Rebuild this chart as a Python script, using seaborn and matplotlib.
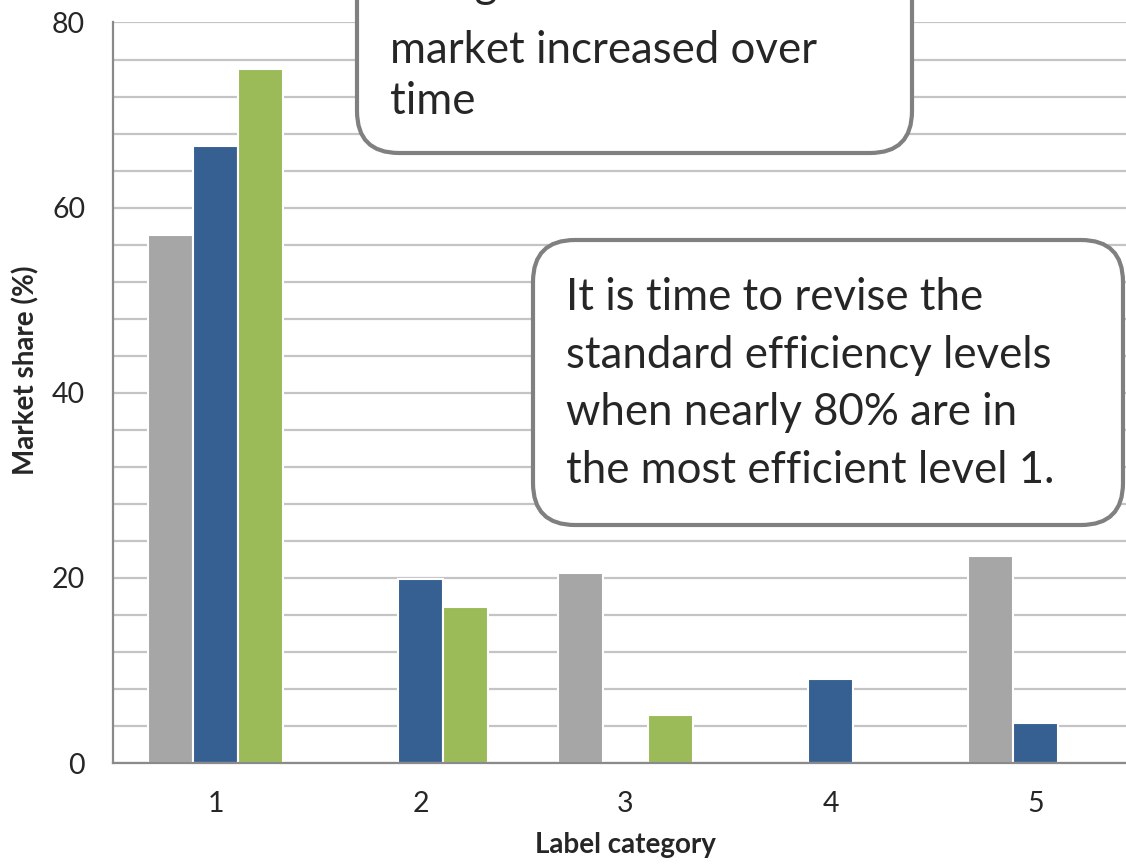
import matplotlib
matplotlib.use("Agg")
import matplotlib.pyplot as plt
from matplotlib.patches import FancyBboxPatch
from matplotlib.ticker import MultipleLocator
from matplotlib.transforms import IdentityTransform
import pandas as pd
import seaborn as sns

# ─── Data ─────────────────────────────────────────────────────────────────────
categories = ["1", "2", "3", "4", "5"]
surveys = ["Survey 1", "Survey 2", "Survey 3"]
share_survey1 = [57.0, 0.0, 20.5, 0.0, 22.4]
share_survey2 = [66.7, 19.9, 0.0, 9.1, 4.3]
share_survey3 = [75.0, 16.8, 5.2, 0.0, 0.0]
colors = ["#A6A6A6", "#376092", "#9BBB59"]
y_ticks = [0, 20, 40, 60, 80]

note_top_hidden = "The growth of level 1 in the"   # sits above the frame, only the g tail shows
note_top = "market increased over\ntime"
note_right = ("It is time to revise the\nstandard efficiency levels\n"
              "when nearly 80% are in\nthe most efficient level 1.")

df = pd.DataFrame({
    "category": categories * 3,
    "survey":   [s for s in surveys for _ in categories],
    "share":    share_survey1 + share_survey2 + share_survey3,
})

# ─── Figure ───────────────────────────────────────────────────────────────────
W, H = 1126, 865
sns.set_style("white")
plt.rcParams["font.family"] = ["Lato", "DejaVu Sans"]

fig = plt.figure(figsize=(W / 100, H / 100), dpi=100)
ax = fig.add_axes([113 / W, 1 - 763 / H, 1025 / W, (763 - 22.5) / H])

sns.barplot(data=df, x="category", y="share", hue="survey", palette=colors,
            saturation=1, width=0.66, edgecolor="white", linewidth=1.5,
            legend=False, ax=ax)

ax.set_xlim(-0.5, 4.5)
ax.set_ylim(0, 80)
ax.set_yticks(y_ticks)
ax.yaxis.set_minor_locator(MultipleLocator(4))
ax.set_axisbelow(True)
ax.grid(axis="y", which="both", color="#C4C4C4", linewidth=1.6)

for side in ["top", "right"]:
    ax.spines[side].set_visible(False)
for side in ["left", "bottom"]:
    ax.spines[side].set_color("#8A8A8A")
    ax.spines[side].set_linewidth(1.6)

ax.tick_params(axis="y", which="major", length=7, width=1.6, color="#8A8A8A",
               labelsize=20.5, pad=13)
ax.tick_params(axis="y", which="minor", length=0)
ax.tick_params(axis="x", length=0, labelsize=20.5, pad=20)

ax.set_xlabel("Label category", fontsize=20, fontweight="bold")
ax.set_ylabel("Market share (%)", fontsize=20, fontweight="bold")
ax.xaxis.set_label_coords(0.5, -0.093)
ax.yaxis.set_label_coords(-0.072, 0.531)

# ─── Callout boxes (pixel coords, y from bottom) ──────────────────────────────
def callout(x0, y0_img, x1, y1_img):
    box = FancyBboxPatch((x0, H - y1_img), x1 - x0, y1_img - y0_img,
                         boxstyle="round,pad=0,rounding_size=42",
                         transform=IdentityTransform(), facecolor="white",
                         edgecolor="#808080", linewidth=3, zorder=5)
    fig.patches.append(box)

callout(357, -120, 912, 153)
callout(533, 240, 1123, 525)

fig.text(390 / W, 1 + 3 / H, note_top_hidden, ha="left", va="baseline",
         fontsize=31.5, zorder=6)
fig.text(390 / W, 1 - 76 / H, note_top, ha="left", va="center",
         fontsize=31.5, linespacing=1.31, zorder=6)
fig.text(566 / W, 1 - 384 / H, note_right, ha="left", va="center",
         fontsize=31.5, linespacing=1.51, zorder=6)

fig.savefig("out.png", dpi=100)
